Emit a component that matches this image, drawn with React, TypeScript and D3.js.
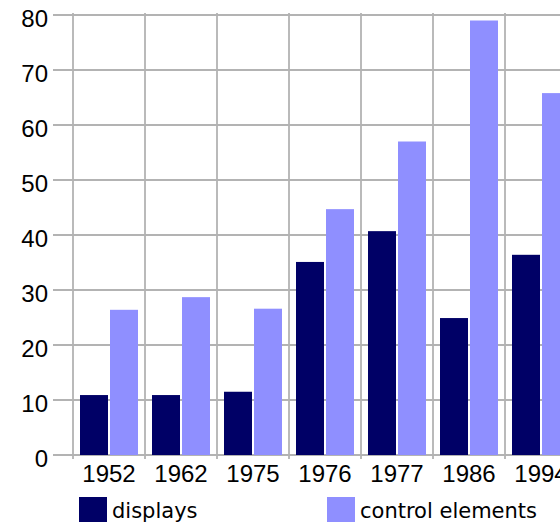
import React from "react";
import * as d3 from "d3";

const categories = ["1952", "1962", "1975", "1976", "1977", "1986", "1994"];
const displays = [10.9, 10.9, 11.5, 35.1, 40.7, 24.9, 36.4];
const controlElements = [26.4, 28.7, 26.6, 44.7, 57.0, 79.0, 65.8];
const seriesNames = ["displays", "control elements"];
const yTicks = [0, 10, 20, 30, 40, 50, 60, 70, 80];

const W = 560;
const H = 522;
const colors = ["#000066", "#8f8fff"];
const grid = "#b3b3b3";
const tickFont = "'Liberation Sans', Arial, sans-serif";
const legendFont = "'DejaVu Sans', sans-serif";

export default function App() {
  const x = d3.scaleBand<string>().domain(categories).range([73, 73 + 72 * categories.length]).padding(0);
  const inner = d3.scaleBand<string>().domain(seriesNames).range([7, 65]).paddingInner(2 / 30).paddingOuter(0);
  const y = d3.scaleLinear().domain([0, 80]).range([455, 15]);
  const series = [displays, controlElements];
  const boundaries = categories.map((c) => x(c) as number).concat([x.range()[1]]);

  return (
    <svg width={W} height={H} style={{ position: "absolute", left: 0, top: 0, background: "#fff" }}>
      <rect x={0} y={0} width={W} height={H} fill="#fff" />
      {yTicks.map((t) => (
        <line key={"h" + t} x1={53} x2={W} y1={y(t)} y2={y(t)} stroke={grid} strokeWidth={1.8} />
      ))}
      {boundaries.map((b, i) => (
        <line key={"v" + i} x1={b} x2={b} y1={13} y2={459} stroke={grid} strokeWidth={1.8} />
      ))}
      {categories.map((c, ci) =>
        series.map((s, si) => (
          <rect
            key={c + si}
            x={(x(c) as number) + (inner(seriesNames[si]) as number)}
            y={y(s[ci])}
            width={inner.bandwidth()}
            height={y(0) - y(s[ci])}
            fill={colors[si]}
          />
        ))
      )}
      {yTicks.map((t) => (
        <text key={"yl" + t} x={48} y={y(t) + 11.5} textAnchor="end" fontSize={24} fontFamily={tickFont} fill="#000">
          {t}
        </text>
      ))}
      {categories.map((c) => (
        <text key={"xl" + c} x={(x(c) as number) + x.bandwidth() / 2} y={482} textAnchor="middle" fontSize={24} fontFamily={tickFont} fill="#000">
          {c}
        </text>
      ))}
      <rect x={79} y={497} width={28} height={28} fill={colors[0]} />
      <text x={112} y={518} fontSize={21} fontFamily={legendFont} fill="#000">{seriesNames[0]}</text>
      <rect x={327} y={497} width={28} height={28} fill={colors[1]} />
      <text x={360} y={518} fontSize={21} fontFamily={legendFont} fill="#000">{seriesNames[1]}</text>
    </svg>
  );
}
